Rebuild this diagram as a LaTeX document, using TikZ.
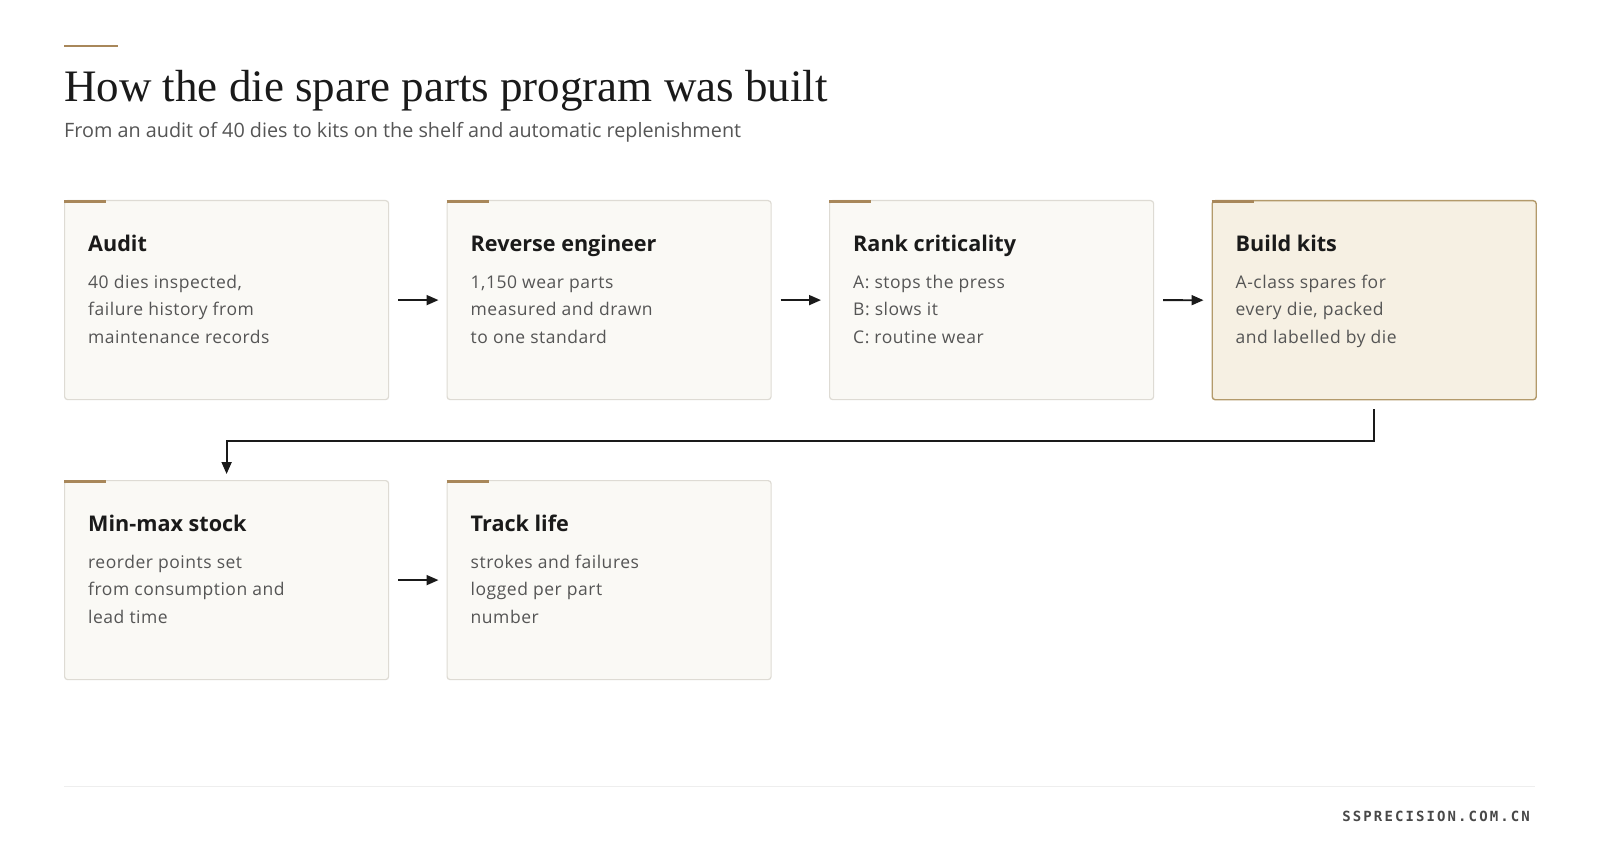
\documentclass[tikz,border=0pt]{standalone}
\usepackage{fontspec}
\setmainfont{Liberation Serif}
\newfontfamily\bodyfont{Open Sans}
\newfontfamily\bodyfontsp[LetterSpace=3]{Open Sans}
\newfontfamily\footfont[LetterSpace=15]{DejaVu Sans Mono}
\usetikzlibrary{arrows.meta,calc}
\definecolor{gold}{HTML}{A8875A}
\definecolor{ink}{HTML}{1A1A1A}
\definecolor{muted}{HTML}{555555}
\definecolor{cardfill}{HTML}{FAF9F5}
\definecolor{cardline}{HTML}{DEDBD4}
\definecolor{hifill}{HTML}{F6F0E3}
\definecolor{hiline}{HTML}{B39A6B}
\definecolor{rule}{HTML}{EEEEEE}
\tikzset{
  card/.style={draw=cardline, fill=cardfill, line width=1.2pt, rounded corners=3pt,
    minimum width=324pt, minimum height=199pt, inner sep=0pt},
  cardhi/.style={card, draw=hiline, fill=hifill, line width=1.4pt},
  accentbar/.style={draw=gold, line width=2.6pt},
  headtxt/.style={font=\bodyfont\bfseries\fontsize{21.6}{26}\selectfont, text=ink, inner sep=0pt},
  bodytxt/.style={font=\bodyfontsp\fontsize{17.5}{21}\selectfont, text=muted, inner sep=0pt},
  arr/.style={draw=ink, line width=1.8pt, -{Triangle[length=12pt,width=10pt]}},
}
\newcommand\stepcard[8]{%
  \node[#4, anchor=north west] (#1) at (#2,#3) {};
  \draw[accentbar] ([yshift=-1.3pt]#1.north west) -- ([xshift=42pt,yshift=-1.3pt]#1.north west);
  \node[headtxt, anchor=base west] (#1-h) at ([xshift=24pt,yshift=-51pt]#1.north west) {#5};
  \node[bodytxt, anchor=base west] (#1-a) at ([xshift=24pt,yshift=-88pt]#1.north west) {#6};
  \node[bodytxt, anchor=base west] (#1-b) at ([xshift=24pt,yshift=-115.5pt]#1.north west) {#7};
  \node[bodytxt, anchor=base west] (#1-c) at ([xshift=24pt,yshift=-143pt]#1.north west) {#8};
}
\begin{document}
\begin{tikzpicture}[x=1pt,y=-1pt]
\useasboundingbox[fill=white] (0,0) rectangle (1600,853);
% header
\coordinate (acc-a) at (64,46);
\coordinate (acc-b) at (117.5,46);
\draw[accentbar] (acc-a) -- (acc-b);
\node[anchor=base west, inner sep=0pt, text=ink, font=\fontsize{45}{50}\selectfont] (title) at (64,101.5) {How the die spare parts program was built};
\node[anchor=base west, inner sep=0pt, text=muted, font=\bodyfont\fontsize{19.8}{23}\selectfont] (subtitle) at (64,138) {From an audit of 40 dies to kits on the shelf and automatic replenishment};
% cards
\stepcard{audit}{64}{200}{card}{Audit}{40 dies inspected,}{failure history from}{maintenance records}
\stepcard{rev}{446.5}{200}{card}{Reverse engineer}{1,150 wear parts}{measured and drawn}{to one standard}
\stepcard{rank}{829}{200}{card}{Rank criticality}{A: stops the press}{B: slows it}{C: routine wear}
\stepcard{kits}{1211.5}{200}{cardhi}{Build kits}{A-class spares for}{every die, packed}{and labelled by die}
\stepcard{minmax}{64}{480}{card}{Min-max stock}{reorder points set}{from consumption and}{lead time}
\stepcard{track}{446.5}{480}{card}{Track life}{strokes and failures}{logged per part}{number}
% connectors
\draw[arr] ([xshift=9pt]audit.east) -- ([xshift=-8pt]rev.west);
\draw[arr] ([xshift=9pt]rev.east) -- ([xshift=-8pt]rank.west);
\draw[arr] ([xshift=9pt]rank.east) -- ([xshift=-8pt]kits.west);
\draw[arr] ([xshift=9pt]minmax.east) -- ([xshift=-8pt]track.west);
\draw[arr] ([yshift=-9pt]kits.south) -- ([yshift=-40.5pt]kits.south) -| ([yshift=6pt]minmax.north);
% footer
\coordinate (rule-a) at (64,786.5);
\coordinate (rule-b) at (1535,786.5);
\draw[draw=rule, line width=1.8pt] (rule-a) -- (rule-b);
\node[anchor=base east, inner sep=0pt, text=muted!85!black, font=\footfont\bfseries\fontsize{14}{16}\selectfont] (site) at (1530,821) {SSPRECISION.COM.CN};
\end{tikzpicture}
\end{document}
